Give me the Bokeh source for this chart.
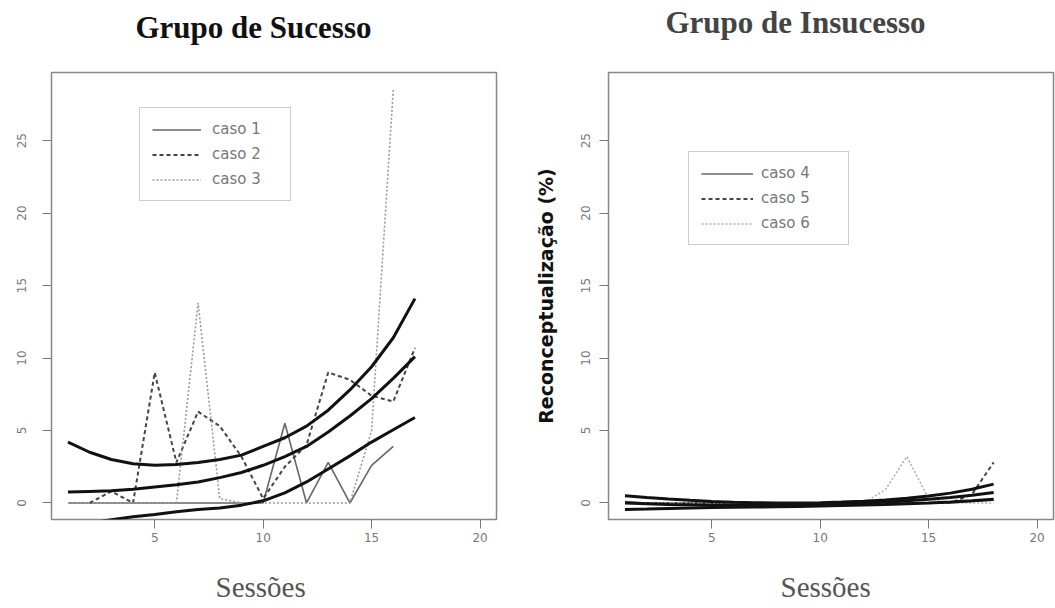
from bokeh.plotting import figure
from bokeh.models import Range1d, FixedTicker, Title, Legend, LegendItem
from bokeh.layouts import row
from bokeh.embed import file_html
from bokeh.resources import INLINE

# ---------------- data: Grupo de Sucesso ----------------
caso1_x = list(range(1, 17))
caso1_y = [0, 0, 0, 0, 0, 0, 0, 0, 0, 0, 5.5, 0, 2.8, 0, 2.6, 3.9]
caso2_x = list(range(2, 18))
caso2_y = [0, 0.8, 0, 9.0, 2.8, 6.3, 5.3, 3.2, 0.3, 2.5, 4.0, 9.0, 8.5, 7.4, 7.0, 10.7]
caso3_x = list(range(1, 17))
caso3_y = [0, 0, 0, 0, 0, 0, 13.8, 0.3, 0, 0, 0, 0, 0, 0, 5.0, 28.5]

fit_x_a = list(range(1, 18))
fit_up_a = [4.2, 3.5, 3.0, 2.7, 2.6, 2.65, 2.8, 3.0, 3.3, 3.9, 4.5, 5.3, 6.4, 7.8, 9.4, 11.4, 14.1]
fit_mid_a = [0.75, 0.8, 0.85, 0.95, 1.1, 1.25, 1.45, 1.75, 2.1, 2.6, 3.2, 3.9, 4.9, 6.0, 7.2, 8.6, 10.1]
fit_low_a = [-1.7, -1.4, -1.15, -0.95, -0.8, -0.6, -0.45, -0.35, -0.15, 0.15, 0.7, 1.45, 2.35, 3.25, 4.2, 5.05, 5.9]

# ---------------- data: Grupo de Insucesso ----------------
sess_b = list(range(1, 19))
caso4_y = [0.1, 0, 0, 0, 0, 0, 0, 0, 0, 0, 0, 0, 0, 0, 0, 0, 0.1, 0.2]
caso5_y = [0, 0, 0, 0, 0, 0, 0, 0, 0, 0, 0, 0, 0, 0, 0, 0, 0.6, 2.8]
caso6_y = [0, 0, 0, 0, 0, 0, 0, 0, 0, 0, 0, 0, 0.9, 3.2, 0.3, 0, 0, 0]
fit_up_b = [0.5, 0.38, 0.27, 0.18, 0.1, 0.05, 0.02, 0.0, 0.0, 0.02, 0.06, 0.12, 0.2, 0.32, 0.48, 0.68, 0.95, 1.3]
fit_mid_b = [0.0, -0.05, -0.1, -0.13, -0.15, -0.16, -0.16, -0.15, -0.13, -0.1, -0.05, 0.0, 0.07, 0.15, 0.25, 0.38, 0.53, 0.72]
fit_low_b = [-0.45, -0.42, -0.38, -0.35, -0.32, -0.3, -0.28, -0.26, -0.24, -0.21, -0.18, -0.14, -0.1, -0.05, 0.0, 0.07, 0.15, 0.25]

x_ticks = [5, 10, 15, 20]
y_ticks = [0, 5, 10, 15, 20, 25]

legend_a = ["caso 1", "caso 2", "caso 3"]
legend_b = ["caso 4", "caso 5", "caso 6"]

SERIF = "Liberation Serif"
SANS = "DejaVu Sans"


def make_fig(width, mbl, mbr, ylab_standoff):
    p = figure(width=width, height=608,
               x_range=Range1d(0.24, 20.76), y_range=Range1d(-1.14, 29.7),
               output_backend="svg", toolbar_location=None,
               min_border_left=mbl, min_border_right=mbr,
               min_border_top=72, min_border_bottom=89)
    p.grid.visible = False
    p.outline_line_color = "#888888"
    p.outline_line_width = 1.5
    p.background_fill_color = "white"
    p.border_fill_color = "white"
    p.xaxis.ticker = FixedTicker(ticks=x_ticks)
    p.yaxis.ticker = FixedTicker(ticks=y_ticks)
    for ax in (p.xaxis, p.yaxis):
        ax.minor_tick_line_color = None
        ax.major_tick_out = 9
        ax.major_tick_in = 0
        ax.major_tick_line_color = "#777777"
        ax.axis_line_color = None
        ax.major_label_text_font = SANS
        ax.major_label_text_font_size = "12px"
        ax.major_label_text_color = "#777777"
    p.xaxis.major_label_standoff = 4
    p.yaxis.major_label_orientation = "vertical"
    p.yaxis.major_label_standoff = ylab_standoff
    return p


def spacer(p, side, gap):
    # thin empty band that pushes the next title away from the frame
    p.add_layout(Title(text=" ", text_font_size="1px", standoff=gap), side)


def set_title(p, text, color, offset, gap):
    spacer(p, "above", gap)
    p.title.text = text
    p.title.align = "left"
    p.title.offset = offset
    p.title.standoff = 0
    p.title.vertical_align = "bottom"
    p.title.text_font = SERIF
    p.title.text_font_style = "bold"
    p.title.text_font_size = "31px"
    p.title.text_color = color


def add_xlabel(p, text, offset, gap):
    spacer(p, "below", gap)
    p.add_layout(Title(text=text, align="left", offset=offset, standoff=0,
                       vertical_align="bottom", text_font=SERIF,
                       text_font_style="normal", text_font_size="29px",
                       text_color="#555555"), "below")


def add_legend(p, renderers, labels, loc, glyph_w, lab_standoff, lab_w):
    items = [LegendItem(label=l, renderers=[r]) for l, r in zip(labels, renderers)]
    lg = Legend(items=items, location=loc, padding=12, spacing=7,
                glyph_height=17, label_height=17, glyph_width=glyph_w,
                label_standoff=lab_standoff, label_width=lab_w, margin=0,
                border_line_color="#999999", border_line_width=1,
                label_text_font=SANS, label_text_font_size="15px",
                label_text_color="#777777", background_fill_color="white",
                background_fill_alpha=1.0)
    p.add_layout(lg)


# ---------------- left panel ----------------
p1 = make_fig(500, 51, 4, 16)
set_title(p1, "Grupo de Sucesso", "#111111", 84, 25)
add_xlabel(p1, "Sessões", 164, 21)

r1 = p1.line(caso1_x, caso1_y, line_color="#666666", line_width=1.6)
r2 = p1.line(caso2_x, caso2_y, line_color="#444444", line_width=2, line_dash="4 3")
r3 = p1.line(caso3_x, caso3_y, line_color="#9a9a9a", line_width=1.6, line_dash="2 2")
for ys in (fit_up_a, fit_mid_a, fit_low_a):
    p1.line(fit_x_a, ys, line_color="#111111", line_width=3)
add_legend(p1, [r1, r2, r3], legend_a, (88, 318), 49, 11, 66)

# ---------------- right panel ----------------
p2 = make_fig(555, 108, 2, 9)
set_title(p2, "Grupo de Insucesso", "#444444", 57, 30)
add_xlabel(p2, "Sessões", 172, 21)
p2.yaxis.axis_label = "Reconceptualização (%)"
p2.yaxis.axis_label_text_font = SANS
p2.yaxis.axis_label_text_font_style = "bold"
p2.yaxis.axis_label_text_font_size = "19px"
p2.yaxis.axis_label_text_color = "#111111"
p2.yaxis.axis_label_standoff = 22

r4 = p2.line(sess_b, caso4_y, line_color="#666666", line_width=1.6)
r5 = p2.line(sess_b, caso5_y, line_color="#444444", line_width=2, line_dash="4 3")
r6 = p2.line(sess_b, caso6_y, line_color="#b0b0b0", line_width=1.6, line_dash="2 2")
for ys in (fit_up_b, fit_mid_b, fit_low_b):
    p2.line(sess_b, ys, line_color="#111111", line_width=3)
add_legend(p2, [r4, r5, r6], legend_b, (80, 274), 52, 8, 75)

layout = row(p1, p2)
open("out.html", "w").write(file_html(layout, INLINE))
